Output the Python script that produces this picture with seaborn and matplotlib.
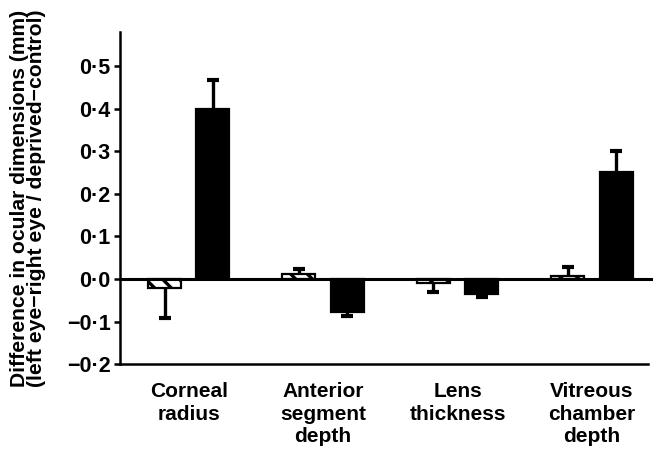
import matplotlib
matplotlib.use("Agg")
import matplotlib.pyplot as plt
import matplotlib.ticker as mticker
import numpy as np
import pandas as pd
import seaborn as sns

categories = ["Corneal\nradius", "Anterior\nsegment\ndepth", "Lens\nthickness", "Vitreous\nchamber\ndepth"]
series_names = ["Left eye − right eye", "Deprived − control"]
open_values = [-0.021, 0.012, -0.010, 0.008]
open_errors = [0.071, 0.011, 0.020, 0.020]
solid_values = [0.400, -0.077, -0.035, 0.251]
solid_errors = [0.068, 0.010, 0.008, 0.049]
y_ticks = [-0.2, -0.1, 0.0, 0.1, 0.2, 0.3, 0.4, 0.5]

sns.set_theme(style="white")
plt.rcParams["font.family"] = ["Liberation Sans", "DejaVu Sans"]
plt.rcParams["font.weight"] = "bold"
plt.rcParams["hatch.linewidth"] = 2.4

df = pd.DataFrame({
    "category": categories * 2,
    "series": [series_names[0]] * 4 + [series_names[1]] * 4,
    "value": open_values + solid_values,
})

fig = plt.figure(figsize=(6.53, 4.53), dpi=100)
ax = fig.add_axes([0.184, 0.196, 0.808, 0.734])

sns.barplot(data=df, x="category", y="value", hue="series", order=categories,
            hue_order=series_names, palette=["white", "black"], width=0.72, gap=0.32,
            errorbar=None, legend=False, ax=ax, edgecolor="black", linewidth=1.6,
            saturation=1, zorder=3)

errs = [open_errors, solid_errors]
vals = [open_values, solid_values]
for k, cont in enumerate(ax.containers):
    for i, p in enumerate(cont.patches):
        if k == 0:
            p.set_hatch("\\\\")
        xc = p.get_x() + p.get_width() / 2
        v = vals[k][i]
        e = errs[k][i]
        end = v + e if v >= 0 else v - e
        ax.plot([xc, xc], [v, end], color="black", lw=2.4, zorder=2, solid_capstyle="butt")
        ax.plot([xc], [end], marker="_", markersize=8, markeredgewidth=3,
                color="black", zorder=2)

ax.axhline(0, xmin=0, xmax=1.02, color="black", lw=2.2, zorder=4, clip_on=False)

ax.set_xlim(-0.51, 3.415)
ax.set_ylim(-0.2, 0.581)
ax.set_yticks(y_ticks)
ax.yaxis.set_major_formatter(mticker.FuncFormatter(
    lambda v, pos: f"{v:.1f}".replace(".", "·").replace("-", "−")))

for s in ["top", "right"]:
    ax.spines[s].set_visible(False)
for s in ["left", "bottom"]:
    ax.spines[s].set_linewidth(1.8)
    ax.spines[s].set_color("black")

ax.tick_params(axis="y", which="major", left=True, length=4, width=1.8,
               direction="out", labelsize=15.5, pad=3, colors="black")
ax.tick_params(axis="x", bottom=False, labelsize=15, pad=7, colors="black")
for t in ax.get_yticklabels() + ax.get_xticklabels():
    t.set_fontweight("bold")
for t in ax.get_xticklabels():
    t.set_linespacing(1.22)

ax.set_xlabel("")
ax.set_ylabel("Difference in ocular dimensions (mm)\n(left eye−right eye / deprived−control)",
              fontsize=15.2, fontweight="bold", linespacing=0.9, color="black")
ax.yaxis.set_label_coords(-0.14, 0.5)

fig.savefig("out.png", dpi=100, facecolor="white")
